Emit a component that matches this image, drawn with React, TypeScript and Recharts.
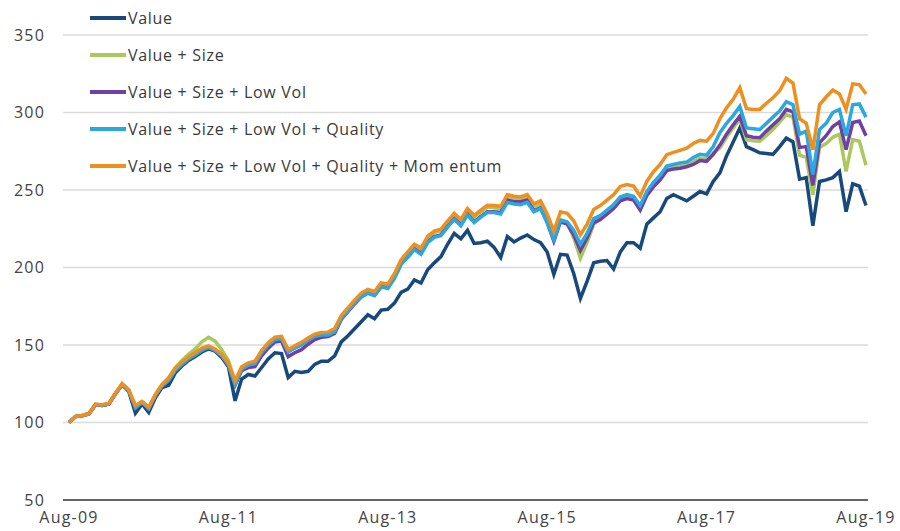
import { CartesianGrid, Line, LineChart, XAxis, YAxis } from "recharts";

// monthly index levels, Aug-09 = 100
const valueOnly = [
  100, 104, 104.5, 105.8, 111.5, 111, 112, 118.5, 124.5, 120,
  106, 112, 106.5, 116, 122.5, 124, 132, 136.5, 140, 142.5,
  145.5, 147.5, 146, 142, 136, 114, 128, 131, 130, 135.5,
  141, 145, 144.5, 129, 133, 132.3, 133, 137.5, 139.5, 139.5,
  143, 152, 156, 160.5, 165, 169.5, 167, 172.5, 173, 177,
  184, 186, 192, 190, 198.5, 203, 207, 215, 222, 218.5,
  224, 215.5, 216, 217, 213, 206.5, 220, 216.5, 219, 221,
  218, 216, 210, 195.5, 208.5, 208, 196, 180, 191, 203,
  204, 204.5, 199, 210, 216, 216, 212.5, 228, 232, 236,
  244.5, 247, 245, 243, 246, 249, 247.5, 255.5, 261, 272,
  281, 290, 278, 276, 274, 273.5, 273, 278, 283.5, 281,
  257, 258, 227, 255.5, 256.5, 258, 262, 236, 254, 252.5, 240,
];

const valueSize = [
  100, 104, 104.5, 105.8, 111.8, 111.5, 112.3, 118.9, 125, 121,
  110.5, 113.5, 109.5, 118, 124.5, 128.7, 135.5, 140, 144, 147.5,
  152, 155, 152.5, 147, 140, 126, 135.5, 138, 139, 146,
  151, 154.5, 155, 146, 148.5, 150.8, 153.5, 156, 157, 157.3,
  159.6, 168, 173, 178, 182.5, 184.8, 183.5, 189, 188.3, 195,
  204, 209, 214, 211.5, 219, 222.5, 223.8, 229, 234, 230,
  237, 232.5, 236, 239, 238.5, 238, 245.5, 244.5, 244, 245.5,
  239, 241, 231, 218, 231, 229, 219, 206, 216, 228,
  231, 235, 239, 244, 246, 245, 238, 248, 254, 258.5,
  264.5, 265.5, 266, 266.5, 268.5, 270.5, 270, 274, 277, 284,
  290, 296, 282.5, 281.8, 281.5, 285, 289, 294, 298.5, 297,
  272.5, 271, 247, 277.5, 280, 284, 286, 262, 282.5, 281.5, 266,
];

const lowVol = [
  100, 103.8, 104.3, 105.5, 111.5, 111, 112, 118.5, 124.5, 120.5,
  109, 113, 108.5, 117.5, 123.5, 127, 133.5, 137.5, 141, 143.5,
  146.5, 148.5, 146.5, 143, 137, 124, 133.5, 135.5, 136, 143,
  148, 152, 152.5, 142.5, 145, 147, 150.5, 153.5, 155, 155.5,
  157.5, 166.5, 171.5, 176.5, 181, 183.5, 182, 187.5, 187, 193.5,
  202.5, 207, 212, 209, 216.5, 220, 221, 226.5, 231.5, 227.5,
  234.5, 229.5, 233, 236, 236, 235.5, 243.5, 242.5, 242.5, 243.5,
  236.5, 238.5, 229, 217, 229.5, 228, 221, 211, 219, 229,
  231, 234.5, 238, 243, 244.5, 243.5, 237, 246.5, 252, 256.5,
  262.5, 263.5, 264, 265, 266.5, 269, 268.5, 273, 279, 286,
  292, 297.5, 285, 284, 283.7, 288, 292, 296, 302, 300.5,
  277.5, 278, 253, 280.5, 285, 291, 294, 276, 293.5, 294.5, 285,
];

const quality = [
  100, 103.8, 104.3, 105.5, 111.5, 111.2, 112, 118.5, 124.5, 120.5,
  109.5, 113, 109, 117.5, 123.5, 127, 133.5, 137.5, 141, 143.5,
  146.5, 148.5, 146.5, 143, 137, 124.5, 134.5, 137, 138, 145,
  150, 153.5, 154, 145.5, 148, 150, 153, 155.5, 156.5, 156.5,
  158.5, 167, 172, 177, 181, 183.5, 182, 187.5, 186.5, 193,
  202, 206.5, 211.5, 208.5, 216, 219.5, 220.5, 226, 231, 227,
  234, 229, 232.5, 235.5, 235.5, 234.5, 242, 241, 240.5, 242,
  236, 238, 229, 218, 230.5, 229.5, 224, 215, 222, 231.5,
  233.5, 237, 240.5, 245.5, 247, 246, 240, 249, 255, 259.5,
  265.5, 266.5, 267.5, 268, 271, 273, 272.5, 278, 287, 293,
  298, 304, 290, 289.5, 289, 293, 297, 301, 307, 305,
  286, 288, 260, 289, 293, 300, 302, 285, 305, 305.5, 297,
];

const momentum = [
  100, 104, 104.5, 105.8, 111.8, 111.5, 112.3, 118.9, 125, 121,
  111, 113.5, 109.8, 118, 124.5, 128.7, 135, 139, 142.4, 145,
  148, 149.5, 147.5, 144, 138.5, 127, 136, 138.5, 139.5, 146.5,
  151.5, 155, 155.6, 147, 149.5, 151.8, 154.5, 157, 158, 158.3,
  160.6, 169, 174, 179, 183.5, 185.8, 184.5, 190, 189.3, 196,
  205, 210, 215, 212.5, 220, 223.5, 224.8, 230, 235, 231,
  238, 233.5, 237, 240.2, 240, 239.5, 247, 246, 245.5, 247,
  241, 243, 234.5, 223.5, 236, 235, 230, 221, 228, 237.4,
  240, 243.5, 247, 252.3, 253.5, 252.5, 246, 255.5, 261.8, 266.5,
  272.8, 274.3, 275.6, 277, 280, 282, 281.5, 286.5, 296, 303,
  308.5, 316, 302.5, 302, 302, 306, 309.5, 314, 322, 319,
  296, 293, 276, 305, 310, 314.5, 312, 302, 318.5, 318, 312,
];

const monthNames = ["Jan", "Feb", "Mar", "Apr", "May", "Jun", "Jul", "Aug", "Sep", "Oct", "Nov", "Dec"];
const xTicks = ["Aug-09", "Aug-11", "Aug-13", "Aug-15", "Aug-17", "Aug-19"];
const yTicks = [50, 100, 150, 200, 250, 300, 350];

const series = [
  { key: "value", name: "Value", color: "#17497c", values: valueOnly },
  { key: "size", name: "Value + Size", color: "#a9c95a", values: valueSize },
  { key: "lowvol", name: "Value + Size + Low Vol", color: "#7140a3", values: lowVol },
  { key: "quality", name: "Value + Size + Low Vol + Quality", color: "#2aa8df", values: quality },
  { key: "momentum", name: "Value + Size + Low Vol + Quality + Mom entum", color: "#ee8f20", values: momentum },
];

const monthLabel = (i: number) => {
  const m = (7 + i) % 12;
  const y = 9 + Math.floor((7 + i) / 12);
  return `${monthNames[m]}-${String(y).padStart(2, "0")}`;
};

const data = valueOnly.map((_, i) => {
  const row: any = { month: monthLabel(i) };
  series.forEach((s) => (row[s.key] = s.values[i]));
  return row;
});

const font = "'Open Sans', sans-serif";
const tickStyle = { fill: "#444", fontSize: 16, fontFamily: font, letterSpacing: 1.2 };

export default function App() {
  return (
    <div style={{ position: "absolute", left: 0, top: 0, width: 900, height: 531, background: "#fff", fontFamily: font }}>
      <LineChart width={900} height={531} data={data} margin={{ top: 35, right: 32, left: 13, bottom: 7 }}>
        <CartesianGrid vertical={false} stroke="#dadada" strokeWidth={1.5} />
        <XAxis
          dataKey="month"
          ticks={xTicks}
          interval={0}
          tickLine={false}
          axisLine={{ stroke: "#3a3a3a", strokeWidth: 1.5 }}
          padding={{ left: 6, right: 2 }}
          height={24}
          tickMargin={6}
          tick={tickStyle}
        />
        <YAxis
          domain={[50, 350]}
          ticks={yTicks}
          width={50}
          axisLine={false}
          tickLine={false}
          tickMargin={12}
          tick={tickStyle}
        />
        {series.map((s) => (
          <Line
            key={s.key}
            type="linear"
            dataKey={s.key}
            name={s.name}
            stroke={s.color}
            strokeWidth={3.5}
            dot={false}
            isAnimationActive={false}
          />
        ))}
      </LineChart>
      <div style={{ position: "absolute", left: 90, top: -1 }}>
        {series.map((s) => (
          <div key={s.key} style={{ display: "flex", alignItems: "center", height: 37 }}>
            <span style={{ display: "inline-block", width: 36, height: 4, background: s.color }} />
            <span style={{ fontSize: 16, color: "#3a3a3a", marginLeft: 2, letterSpacing: 0.7 }}>{s.name}</span>
          </div>
        ))}
      </div>
    </div>
  );
}
